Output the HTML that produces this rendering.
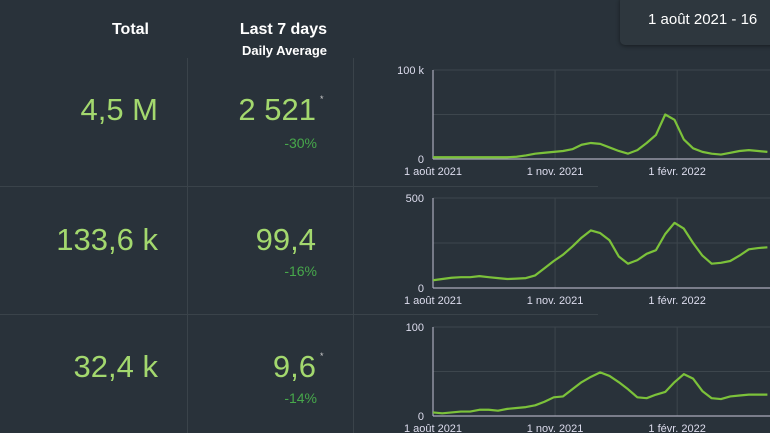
<!DOCTYPE html>
<html><head><meta charset="utf-8">
<style>
body{margin:0;width:770px;height:433px;background:#29323a;overflow:hidden;position:relative;font-family:"Liberation Sans",sans-serif;}
.t{position:absolute;white-space:nowrap;}
.hd{color:#fff;font-weight:bold;}
.big{color:#a3d86e;font-size:31px;text-align:right;}
.pct{color:#47a84b;font-size:14px;text-align:right;}
.vl{position:absolute;width:1px;background:#3a434a;}
.hl{position:absolute;height:1px;background:#3a434a;}
</style></head><body>
<div class="t hd" style="right:621px;top:21px;font-size:16px">Total</div>
<div class="t hd" style="right:443px;top:21px;font-size:16px">Last 7 days</div>
<div class="t hd" style="right:443px;top:43px;font-size:13px">Daily Average</div>
<div style="position:absolute;left:620px;top:-4px;width:170px;height:49px;background:#2e373e;border-radius:5px;box-shadow:0 1px 4px rgba(0,0,0,.45)"><span class="t" style="left:28px;top:15px;color:#fff;font-size:15px">1 août 2021 - 16</span></div>

<div class="vl" style="left:187px;top:58px;height:375px"></div>
<div class="vl" style="left:353px;top:58px;height:375px"></div>
<div class="hl" style="left:0;top:186px;width:598px"></div>
<div class="hl" style="left:0;top:314px;width:598px"></div>

<div class="t big" style="right:612px;top:92px">4,5 M</div>
<div class="t big" style="right:454px;top:92px">2 521</div>
<div class="t" style="left:320px;top:94px;color:#ccc;font-size:9px">*</div>
<div class="t pct" style="right:453px;top:135px">-30%</div>

<div class="t big" style="right:612px;top:222px">133,6 k</div>
<div class="t big" style="right:454px;top:222px">99,4</div>
<div class="t pct" style="right:453px;top:263px">-16%</div>

<div class="t big" style="right:612px;top:349px">32,4 k</div>
<div class="t big" style="right:454px;top:349px">9,6</div>
<div class="t" style="left:320px;top:351px;color:#ccc;font-size:9px">*</div>
<div class="t pct" style="right:453px;top:390px">-14%</div>

<svg id="svg" width="770" height="433" style="position:absolute;left:0;top:0"></svg>
<script>
const days=[0,7,14,21,28,35,42,49,56,63,70,77,84,91,98,105,112,119,126,133,140,147,154,161,168,175,182,189,196,203,210,217,224,231,238,245,252];
const casesK=[2,2,2,2,2,2,2,2,2,2.5,4,6,7,8,9,11,16,18,17,13,9,6,10,18,27,50,44,22,12,8,6,5,7,9,10,9,8];
const hosp=[43,50,57,60,60,66,60,55,50,52,55,70,110,150,185,230,280,320,305,265,175,135,155,190,210,300,362,330,250,180,135,140,150,180,215,222,226];
const deaths=[4,3,4,5,5,7,7,6,8,9,10,12,16,21,22,30,38,44,49,45,38,30,21,20,24,27,38,47,42,28,20,19,22,23,24,24,24];
const xTickDays=[0,92,184];
const xTickLabels=["1 août 2021","1 nov. 2021","1 févr. 2022"];
const charts=[
 {name:"cases",top:70,bottom:159,max:100,data:casesK,labels:["0","100 k"]},
 {name:"hospitalizations",top:198,bottom:288,max:500,data:hosp,labels:["0","500"]},
 {name:"deaths",top:327,bottom:416,max:100,data:deaths,labels:["0","100"]}
];
const svg=document.getElementById('svg');
const NS="http://www.w3.org/2000/svg";
const x0=433,pxPerDay=1.327;
function xs(d){return x0+d*pxPerDay;}
function mk(tag,attrs){const e=document.createElementNS(NS,tag);for(const k in attrs)e.setAttribute(k,attrs[k]);svg.appendChild(e);return e;}
charts.forEach(c=>{
 const ys=v=>c.bottom-(v/c.max)*(c.bottom-c.top);
 [c.max/2,c.max].forEach(v=>{const g=mk('line',{x1:x0,x2:770,y1:ys(v),y2:ys(v),stroke:'#3d464d','stroke-width':1});
 
 });
 xTickDays.forEach((d,i)=>{
  if(i>0){const g=mk('line',{x1:xs(d),x2:xs(d),y1:c.top,y2:c.bottom,stroke:'#3d464d','stroke-width':1});
  
  }
  const t=mk('text',{x:xs(d),y:c.bottom+16,'text-anchor':'middle',fill:'#dde','font-size':11,'font-family':'Liberation Sans, sans-serif'});
  t.textContent=xTickLabels[i];
  
  
 });
 const ax=mk('line',{x1:x0,x2:x0,y1:c.top,y2:c.bottom,stroke:'#aab','stroke-width':1.2});
 
 
 const bx=mk('line',{x1:x0,x2:770,y1:c.bottom,y2:c.bottom,stroke:'#aab','stroke-width':1.2});
 
 
 [0,c.max].forEach((v,i)=>{const t=mk('text',{x:x0-9,y:ys(v)+4,'text-anchor':'end',fill:'#dde','font-size':11,'font-family':'Liberation Sans, sans-serif'});
 t.textContent=c.labels[i];
 
 });
 const p=mk('polyline',{points:c.data.map((v,i)=>xs(days[i])+','+ys(v)).join(' '),fill:'none',stroke:'#7cc23a','stroke-width':2.2,'stroke-linejoin':'round'});
 
 
});
</script>
</body></html>
